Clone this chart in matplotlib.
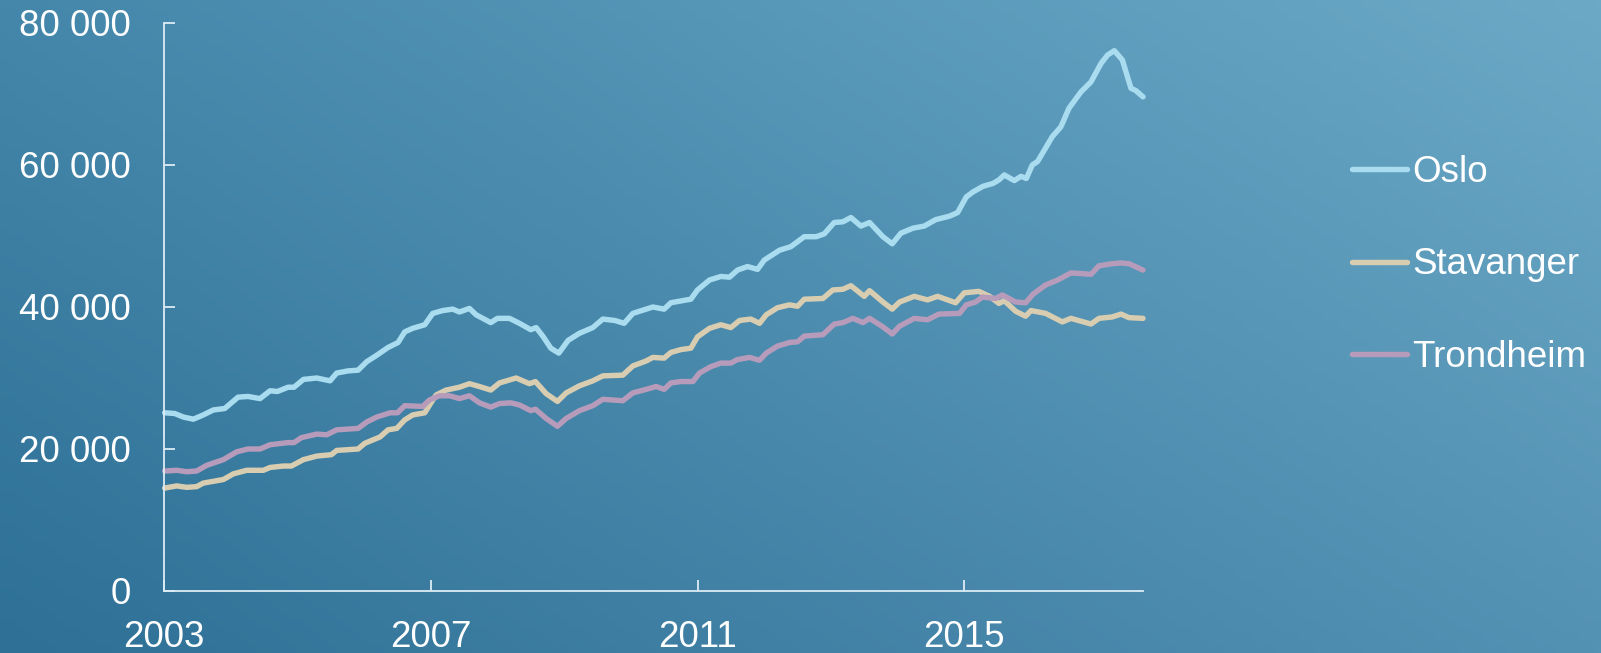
import numpy as np
import matplotlib
matplotlib.use("Agg")
import matplotlib.pyplot as plt

# values (decimal year, thousand kroner)
oslo_x = [2003.01, 2003.16, 2003.29, 2003.44, 2003.59, 2003.74, 2003.91, 2004.11, 2004.26, 2004.44,
          2004.59, 2004.70, 2004.86, 2004.95, 2005.09, 2005.29, 2005.49, 2005.59, 2005.76, 2005.91,
          2006.04, 2006.19, 2006.36, 2006.51, 2006.61, 2006.73, 2006.91, 2007.03, 2007.18, 2007.33,
          2007.43, 2007.58, 2007.68, 2007.90, 2008.00, 2008.18, 2008.33, 2008.50, 2008.58, 2008.68,
          2008.80, 2008.92, 2009.06, 2009.23, 2009.43, 2009.58, 2009.76, 2009.90, 2010.03, 2010.23,
          2010.33, 2010.50, 2010.60, 2010.90, 2011.00, 2011.18, 2011.35, 2011.48, 2011.60, 2011.75,
          2011.90, 2012.00, 2012.23, 2012.40, 2012.60, 2012.78, 2012.90, 2013.05, 2013.18, 2013.30,
          2013.45, 2013.58, 2013.78, 2013.92, 2014.05, 2014.23, 2014.40, 2014.57, 2014.78, 2014.90,
          2015.03, 2015.13, 2015.28, 2015.43, 2015.52, 2015.60, 2015.75, 2015.85, 2015.93, 2016.02,
          2016.10, 2016.32, 2016.45, 2016.57, 2016.75, 2016.90, 2017.05, 2017.15, 2017.25, 2017.37,
          2017.50, 2017.57, 2017.68]
oslo_y = [25.1, 25.0, 24.5, 24.2, 24.8, 25.5, 25.7, 27.3, 27.4, 27.1,
          28.2, 28.1, 28.7, 28.7, 29.8, 30.0, 29.6, 30.7, 31.0, 31.1,
          32.3, 33.2, 34.3, 35.0, 36.5, 37.0, 37.5, 39.1, 39.5, 39.7,
          39.3, 39.8, 38.9, 37.8, 38.4, 38.4, 37.7, 36.8, 37.1, 35.9,
          34.2, 33.5, 35.3, 36.3, 37.1, 38.3, 38.1, 37.7, 39.1, 39.7,
          40.0, 39.7, 40.6, 41.1, 42.4, 43.8, 44.3, 44.2, 45.2, 45.7,
          45.3, 46.6, 48.0, 48.5, 49.9, 49.9, 50.3, 51.9, 52.0, 52.6,
          51.4, 51.9, 49.9, 48.9, 50.4, 51.1, 51.4, 52.3, 52.8, 53.3,
          55.5, 56.2, 57.0, 57.4, 57.9, 58.6, 57.8, 58.4, 58.1, 60.0,
          60.5, 64.0, 65.4, 68.0, 70.3, 71.7, 74.3, 75.5, 76.1, 74.8,
          70.8, 70.5, 69.6]

stav_x = [2003.01, 2003.19, 2003.34, 2003.49, 2003.59, 2003.89, 2004.04, 2004.24, 2004.49, 2004.59,
          2004.79, 2004.91, 2005.09, 2005.29, 2005.51, 2005.59, 2005.91, 2006.01, 2006.24, 2006.36,
          2006.49, 2006.61, 2006.73, 2006.91, 2007.03, 2007.08, 2007.23, 2007.43, 2007.58, 2007.73,
          2007.90, 2008.03, 2008.28, 2008.48, 2008.57, 2008.73, 2008.90, 2009.03, 2009.23, 2009.43,
          2009.58, 2009.88, 2010.03, 2010.23, 2010.33, 2010.50, 2010.60, 2010.75, 2010.90, 2011.00,
          2011.18, 2011.35, 2011.50, 2011.63, 2011.80, 2011.93, 2012.03, 2012.20, 2012.38, 2012.50,
          2012.60, 2012.88, 2013.03, 2013.18, 2013.30, 2013.50, 2013.58, 2013.78, 2013.92, 2014.03,
          2014.25, 2014.45, 2014.60, 2014.87, 2015.00, 2015.22, 2015.38, 2015.52, 2015.60, 2015.77,
          2015.92, 2016.00, 2016.22, 2016.47, 2016.60, 2016.90, 2017.02, 2017.22, 2017.35, 2017.47,
          2017.68]
stav_y = [14.5, 14.8, 14.6, 14.7, 15.2, 15.7, 16.5, 17.0, 17.0, 17.4,
          17.6, 17.6, 18.5, 19.0, 19.2, 19.8, 20.0, 20.8, 21.7, 22.7,
          22.9, 24.1, 24.8, 25.1, 26.9, 27.6, 28.3, 28.7, 29.2, 28.8,
          28.3, 29.3, 30.0, 29.2, 29.5, 27.8, 26.7, 27.9, 28.9, 29.6,
          30.3, 30.4, 31.7, 32.4, 32.9, 32.8, 33.6, 34.0, 34.2, 35.8,
          37.0, 37.5, 37.1, 38.1, 38.3, 37.7, 38.9, 39.9, 40.3, 40.1,
          41.1, 41.2, 42.4, 42.5, 43.0, 41.5, 42.3, 40.7, 39.7, 40.7,
          41.5, 41.0, 41.5, 40.6, 42.0, 42.2, 41.5, 40.5, 40.9, 39.4,
          38.7, 39.5, 39.1, 37.9, 38.4, 37.6, 38.4, 38.6, 39.0, 38.5,
          38.4]

trond_x = [2003.01, 2003.19, 2003.34, 2003.49, 2003.64, 2003.89, 2004.09, 2004.26, 2004.44, 2004.59,
           2004.86, 2004.95, 2005.06, 2005.29, 2005.44, 2005.59, 2005.91, 2006.04, 2006.19, 2006.39,
           2006.50, 2006.61, 2006.88, 2006.98, 2007.13, 2007.28, 2007.43, 2007.58, 2007.73, 2007.90,
           2008.03, 2008.20, 2008.33, 2008.50, 2008.57, 2008.73, 2008.90, 2009.03, 2009.23, 2009.43,
           2009.58, 2009.88, 2010.03, 2010.23, 2010.38, 2010.50, 2010.60, 2010.75, 2010.93, 2011.03,
           2011.20, 2011.35, 2011.50, 2011.60, 2011.78, 2011.93, 2012.03, 2012.20, 2012.38, 2012.50,
           2012.60, 2012.88, 2013.05, 2013.18, 2013.33, 2013.48, 2013.58, 2013.78, 2013.92, 2014.03,
           2014.25, 2014.45, 2014.62, 2014.93, 2015.03, 2015.17, 2015.27, 2015.47, 2015.57, 2015.77,
           2015.92, 2016.03, 2016.22, 2016.40, 2016.60, 2016.77, 2016.90, 2017.02, 2017.22, 2017.35,
           2017.47, 2017.68]
trond_y = [16.9, 17.0, 16.8, 16.9, 17.7, 18.5, 19.6, 20.0, 20.0, 20.6,
           20.9, 20.9, 21.6, 22.1, 22.0, 22.7, 22.9, 23.8, 24.5, 25.1,
           25.1, 26.1, 26.0, 26.9, 27.5, 27.5, 27.1, 27.5, 26.5, 25.9,
           26.4, 26.5, 26.2, 25.4, 25.6, 24.3, 23.2, 24.3, 25.4, 26.1,
           27.0, 26.8, 27.9, 28.4, 28.8, 28.4, 29.3, 29.5, 29.5, 30.7,
           31.6, 32.1, 32.1, 32.6, 32.9, 32.5, 33.5, 34.5, 35.0, 35.1,
           35.9, 36.1, 37.6, 37.8, 38.4, 37.8, 38.4, 37.2, 36.2, 37.3,
           38.4, 38.2, 39.0, 39.1, 40.3, 40.7, 41.4, 41.2, 41.7, 40.7,
           40.6, 41.8, 43.1, 43.8, 44.8, 44.7, 44.6, 45.8, 46.1, 46.2,
           46.1, 45.2]

names = ["Oslo", "Stavanger", "Trondheim"]
colors = ["#aadcf0", "#d8cdb0", "#b69cba"]
year_ticks = [2003, 2007, 2011, 2015]
value_ticks = [0, 20000, 40000, 60000, 80000]

plt.rcParams['font.family'] = ['Liberation Sans', 'DejaVu Sans']

fig = plt.figure(figsize=(16.01, 6.53), dpi=100)

# gradient background
bg = fig.add_axes([0, 0, 1, 1], zorder=-10)
gx, gy = np.meshgrid(np.linspace(0, 1, 200), np.linspace(0, 1, 100))
bl = np.array([46, 112, 150]) / 255
br = np.array([84, 146, 180]) / 255
tl = np.array([68, 135, 170]) / 255
tr = np.array([108, 169, 199]) / 255
img = ((1 - gx) * (1 - gy))[..., None] * bl + (gx * (1 - gy))[..., None] * br \
    + ((1 - gx) * gy)[..., None] * tl + (gx * gy)[..., None] * tr
bg.imshow(img, origin='lower', aspect='auto', extent=[0, 1, 0, 1])
bg.axis('off')

ax = fig.add_axes([164 / 1601, 1 - 591 / 653, (1143 - 164) / 1601, (591 - 23) / 653])
ax.patch.set_alpha(0)

series = [(oslo_x, oslo_y), (stav_x, stav_y), (trond_x, trond_y)]
for (xs, ys), name, c in zip(series, names, colors):
    ax.plot(xs, np.array(ys) * 1000, color=c, lw=3.9, label=name, clip_on=False,
            solid_joinstyle='round', solid_capstyle='round')

ax.set_xlim(2003, 2017.68)
ax.set_ylim(0, 80000)
ax.set_xticks(year_ticks)
ax.set_yticks(value_ticks)
ax.set_yticklabels([f"{v:,}".replace(",", " ") for v in value_ticks])

axis_col = "#dcecf4"
for s in ['top', 'right']:
    ax.spines[s].set_visible(False)
for s in ['left', 'bottom']:
    ax.spines[s].set_color(axis_col)
    ax.spines[s].set_linewidth(1.3)
ax.tick_params(axis='both', direction='in', length=8, width=1.3, color=axis_col,
               labelcolor='white', labelsize=26.5)
ax.tick_params(axis='y', pad=24)
ax.tick_params(axis='x', pad=21)

fig.legend(loc='upper left', bbox_to_anchor=(1352 / 1601, 1 - 155 / 653), frameon=False,
           fontsize=26.5, labelcolor='white', handlelength=1.5, handletextpad=0.14,
           labelspacing=1.56, borderpad=0, borderaxespad=0)

fig.savefig("out.png", dpi=100)
